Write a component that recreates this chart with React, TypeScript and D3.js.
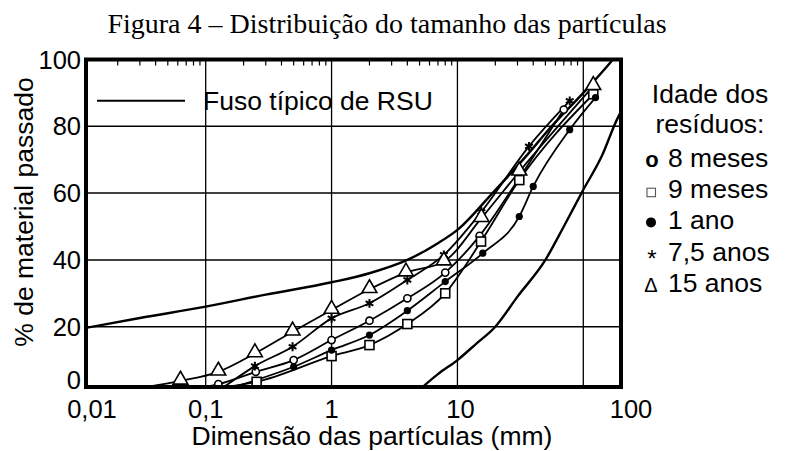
import React from 'react';
import * as d3 from 'd3';

const TITLE = 'Figura 4 – Distribuição do tamanho das partículas';
const X_LABEL = 'Dimensão das partículas (mm)';
const Y_LABEL = '% de material passado';
const X_TICKS = [0.01, 0.1, 1, 10, 100];
const X_TICK_LABELS = ['0,01', '0,1', '1', '10', '100'];
const Y_TICKS = [0, 20, 40, 60, 80, 100];
const X_GRID = [0.1, 1, 10, 100];
const Y_GRID = [20, 40, 60, 80];
const ENVELOPE_LABEL = 'Fuso típico de RSU';
const LEGEND_TITLE = ['Idade dos', 'resíduos:'];
const SERIES_NAMES = ['8 meses', '9 meses', '1 ano', '7,5 anos', '15 anos'];

// [dimensão (mm), % passado]; a first point at 2 % is where the line leaves the axis (no marker)
const fusoUpper: [number, number][] = [[0.011, 19.6], [0.03, 22.6], [0.1, 26], [0.3, 29.6], [1, 33.3], [2, 36], [4, 40], [7, 45], [10, 49], [19, 60], [35, 71], [56, 80], [100, 90], [172, 100], [210, 104]];
const fusoLower: [number, number][] = [[5.3, 2], [7, 5.8], [10, 10], [14, 14.8], [20, 20], [30, 29], [50, 40], [70, 50], [100, 61], [140, 71], [185, 82], [210, 86]];

const meses8: [number, number][] = [[0.1, 2], [0.126, 2.8], [0.25, 6.5], [0.5, 10], [1, 16], [2, 21.8], [4, 28.5], [8, 36.2], [15, 47.2], [31, 64.5], [70, 85]];
const meses9: [number, number][] = [[0.15, 2], [0.254, 3.5], [1, 11.2], [2, 14.5], [4, 20.8], [8, 30], [15.4, 45.5], [31, 63.9], [120, 89.6]];
const ano1: [number, number][] = [[0.17, 2], [0.5, 8], [1, 13], [2, 17.5], [4, 24.8], [8, 33.5], [15.9, 42], [31, 53], [40, 62], [78, 79], [125, 88.6]];
const anos7_5: [number, number][] = [[0.14, 2], [0.246, 8.2], [0.49, 14], [1, 22.5], [2, 27], [4, 34], [7.8, 41.5], [15.5, 54.4], [37, 74], [78, 87.6]];
const anos15: [number, number][] = [[0.034, 2], [0.063, 3.8], [0.126, 6.5], [0.246, 12], [0.49, 18.5], [1, 25], [2, 31.2], [3.9, 36.2], [7.8, 39.5], [15.5, 52.5], [31, 66.4], [120, 92]];

const W = 785;
const H = 451;
const FRAME = { left: 86, right: 621, top: 59.5, bottom: 387 };
const SANS = 'Liberation Sans, Arial, sans-serif';
const SERIF = 'Liberation Serif, Times New Roman, serif';

const x = d3.scaleLog().domain([0.1, 100]).range([205.7, 583.3]);
const y = d3.scaleLinear().domain([0, 100]).range([393.5, 59.5]);

const line = d3
  .line<[number, number]>()
  .x((d) => x(d[0]))
  .y((d) => y(d[1]))
  .curve(d3.curveMonotoneX);

type Kind = 'circle' | 'square' | 'dot' | 'star' | 'triangle';
const SERIES: { data: [number, number][]; kind: Kind }[] = [
  { data: meses8, kind: 'circle' },
  { data: meses9, kind: 'square' },
  { data: ano1, kind: 'dot' },
  { data: anos7_5, kind: 'star' },
  { data: anos15, kind: 'triangle' },
];

function Marker({ kind, cx, cy }: { kind: Kind; cx: number; cy: number }) {
  if (kind === 'circle') return <circle cx={cx} cy={cy} r={3.6} fill="#fff" stroke="#000" strokeWidth={1.6} />;
  if (kind === 'dot') return <circle cx={cx} cy={cy} r={3.6} fill="#000" />;
  if (kind === 'square') return <rect x={cx - 4.5} y={cy - 4.5} width={9} height={9} fill="#fff" stroke="#000" strokeWidth={1.6} />;
  if (kind === 'triangle') {
    const p = d3.symbol().type(d3.symbolTriangle).size(95)();
    return <path d={p || ''} transform={`translate(${cx},${cy - 1})`} fill="#fff" stroke="#000" strokeWidth={1.6} />;
  }
  const p = d3.symbol().type(d3.symbolAsterisk).size(55)();
  return <path d={p || ''} transform={`translate(${cx},${cy})`} fill="none" stroke="#000" strokeWidth={2} />;
}

export default function App() {
  const minorTicks: number[] = [];
  for (let e = -2; e <= 2; e++) {
    for (let k = 2; k <= 9; k++) {
      const v = k * Math.pow(10, e);
      const px = x(v);
      if (px > FRAME.left + 3 && px < FRAME.right - 3) minorTicks.push(v);
    }
  }
  const legendRowY = (i: number) => 167 + i * 31.2;

  return (
    <svg width={W} height={H} style={{ position: 'absolute', left: 0, top: 0, background: '#fff' }}>
      <defs>
        <clipPath id="plot">
          <rect x={FRAME.left} y={FRAME.top} width={FRAME.right - FRAME.left} height={FRAME.bottom - FRAME.top} />
        </clipPath>
      </defs>
      <rect width={W} height={H} fill="#fff" />
      <text x={387} y={33} textAnchor="middle" fontFamily={SERIF} fontSize={28} fill="#000">
        {TITLE}
      </text>

      {/* grid */}
      {X_GRID.map((v) => (
        <line key={`gx${v}`} x1={x(v)} x2={x(v)} y1={FRAME.top} y2={FRAME.bottom} stroke="#000" strokeWidth={1.3} />
      ))}
      {Y_GRID.map((v) => (
        <line key={`gy${v}`} x1={FRAME.left} x2={FRAME.right} y1={y(v)} y2={y(v)} stroke="#000" strokeWidth={1.5} />
      ))}
      {minorTicks.map((v) => (
        <line key={`mt${v}`} x1={x(v)} x2={x(v)} y1={FRAME.top} y2={FRAME.top + 6} stroke="#000" strokeWidth={1.2} />
      ))}

      <g clipPath="url(#plot)">
        <path d={line(fusoUpper) || ''} fill="none" stroke="#000" strokeWidth={2.4} />
        <path d={line(fusoLower) || ''} fill="none" stroke="#000" strokeWidth={2.4} />
        {SERIES.map((s, i) => (
          <path key={`l${i}`} d={line(s.data) || ''} fill="none" stroke="#000" strokeWidth={1.8} />
        ))}
        {SERIES.map((s, i) =>
          s.data
            .filter((d) => d[1] > 2)
            .map((d, j) => <Marker key={`m${i}-${j}`} kind={s.kind} cx={x(d[0])} cy={y(d[1])} />)
        )}
      </g>

      <rect
        x={FRAME.left}
        y={FRAME.top}
        width={FRAME.right - FRAME.left}
        height={FRAME.bottom - FRAME.top}
        fill="none"
        stroke="#000"
        strokeWidth={4}
      />

      {/* envelope legend */}
      <line x1={97} x2={185} y1={100.7} y2={100.7} stroke="#000" strokeWidth={2} />
      <text x={203} y={110} fontFamily={SANS} fontSize={26.5} fill="#000">
        {ENVELOPE_LABEL}
      </text>

      {/* axes labels */}
      {X_TICKS.map((v, i) => {
        const px = i === 0 ? FRAME.left + 6 : i === X_TICKS.length - 1 ? FRAME.right + 10 : x(v) + (v === 10 ? 3 : 0);
        return (
          <text key={`xt${v}`} x={px} y={418} textAnchor="middle" fontFamily={SANS} fontSize={25.5} fill="#000">
            {X_TICK_LABELS[i]}
          </text>
        );
      })}
      {Y_TICKS.map((v) => (
        <text
          key={`yt${v}`}
          x={81}
          y={Math.min(y(v) + 9, FRAME.bottom + 2)}
          textAnchor="end"
          fontFamily={SANS}
          fontSize={25.5}
          fill="#000"
        >
          {v}
        </text>
      ))}
      <text x={372} y={445} textAnchor="middle" fontFamily={SANS} fontSize={26.5} fill="#000">
        {X_LABEL}
      </text>
      <text
        transform={`translate(33,212) rotate(-90)`}
        textAnchor="middle"
        fontFamily={SANS}
        fontSize={26.5}
        fill="#000"
      >
        {Y_LABEL}
      </text>

      {/* series legend */}
      {LEGEND_TITLE.map((t, i) => (
        <text key={`lt${i}`} x={710} y={103 + i * 30} textAnchor="middle" fontFamily={SANS} fontSize={26.5} fill="#000">
          {t}
        </text>
      ))}
      {SERIES_NAMES.map((name, i) => {
        const by = legendRowY(i);
        const kind = SERIES[i].kind;
        let sym: React.ReactNode = null;
        if (kind === 'circle')
          sym = (
            <text x={652} y={by} textAnchor="middle" fontFamily={SANS} fontWeight="bold" fontSize={22} fill="#000">
              o
            </text>
          );
        else if (kind === 'square')
          sym = <rect x={647} y={by - 10} width={8.5} height={8.5} fill="none" stroke="#555" strokeWidth={1.1} />;
        else if (kind === 'dot') sym = <circle cx={651} cy={by - 7} r={5} fill="#000" />;
        else if (kind === 'star')
          sym = (
            <text x={652} y={by + 6} textAnchor="middle" fontFamily={SANS} fontSize={24} fill="#000">
              *
            </text>
          );
        else
          sym = (
            <text x={651} y={by} textAnchor="middle" fontFamily={SANS} fontSize={20} fill="#000">
              Δ
            </text>
          );
        return (
          <g key={`ls${i}`}>
            {sym}
            <text x={668} y={by} fontFamily={SANS} fontSize={26.5} fill="#000">
              {name}
            </text>
          </g>
        );
      })}
    </svg>
  );
}
